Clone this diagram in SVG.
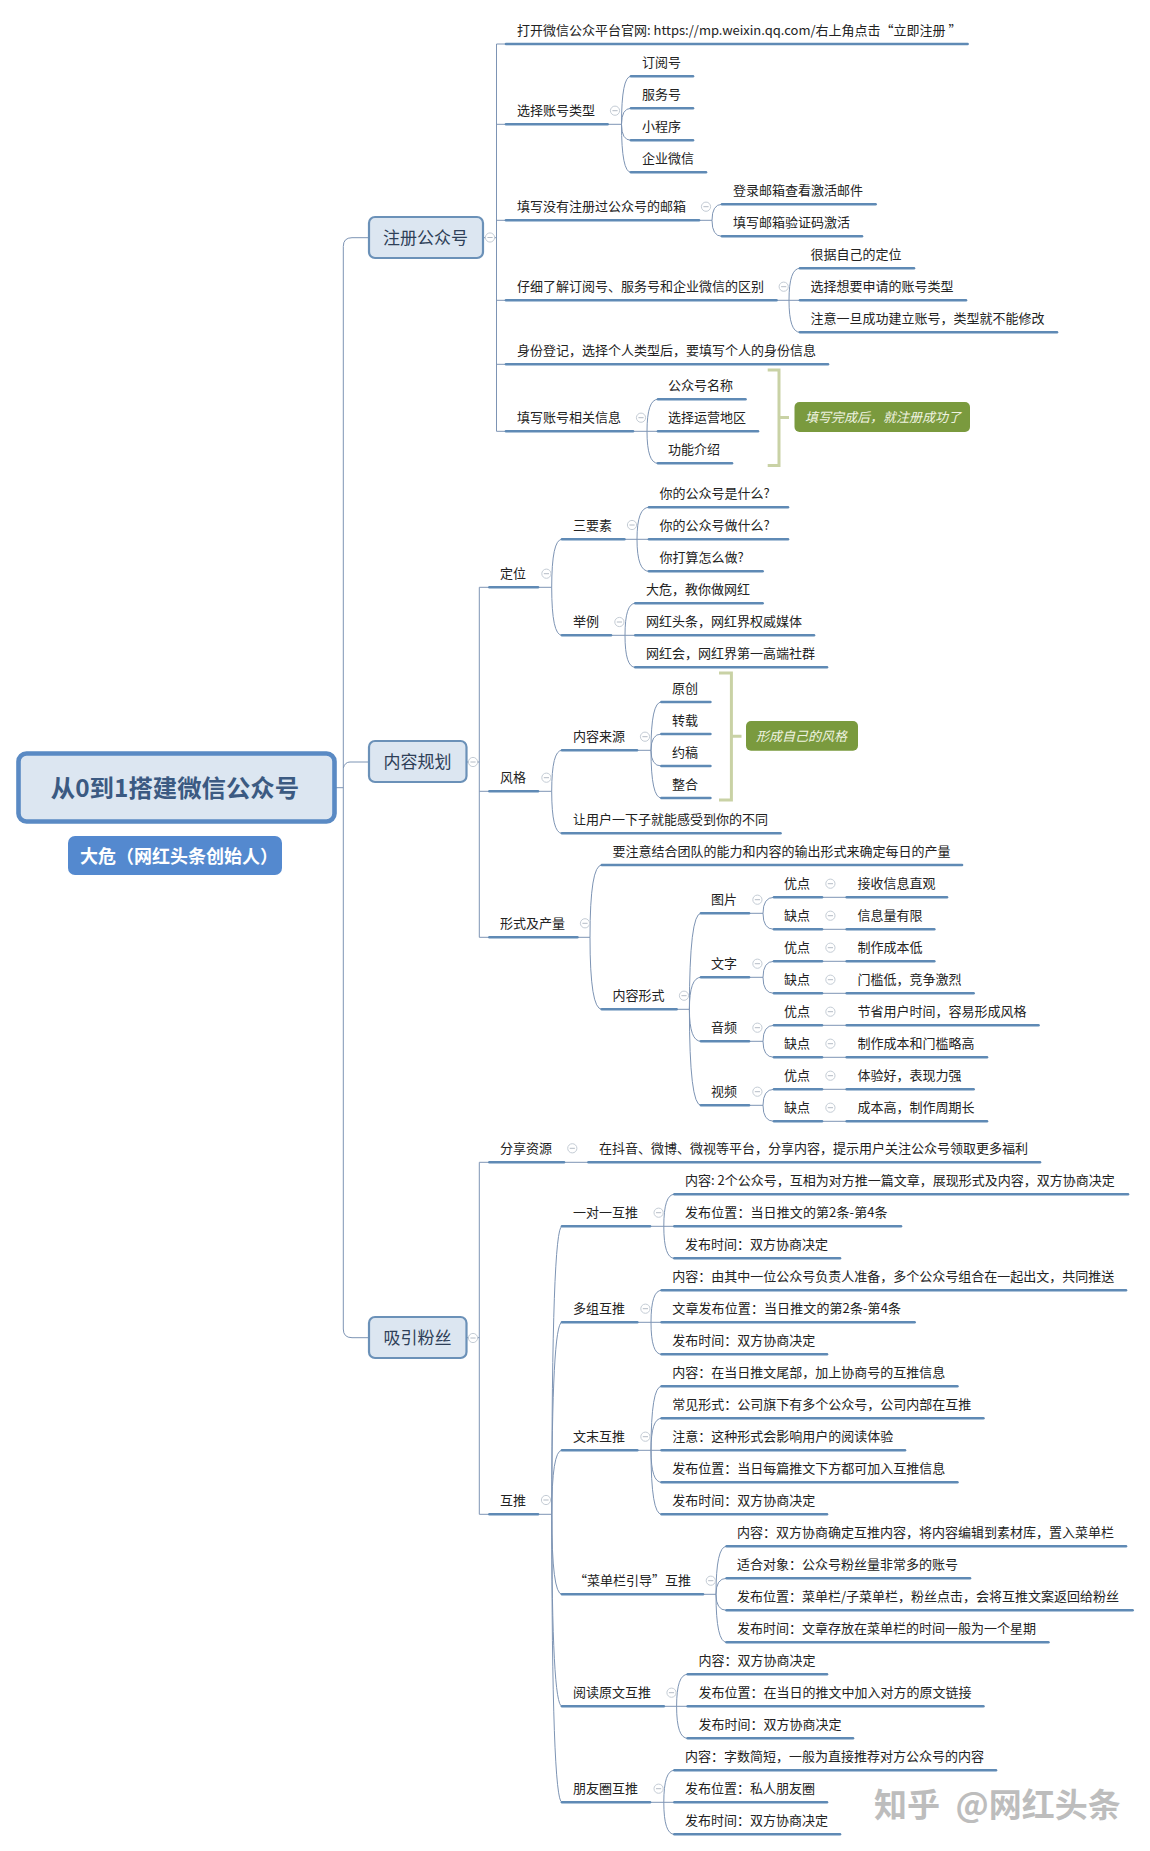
<svg xmlns="http://www.w3.org/2000/svg" width="1150" height="1851" viewBox="0 0 1150 1851">
<style>
text{font-family:"Noto Sans CJK SC","Liberation Sans",sans-serif}
.t{font-size:13px;fill:#222;transform:translateY(-.8px)}
.u{fill:none;stroke:#5f8ab5;stroke-width:2.6;stroke-linecap:round}
.l{fill:none;stroke:#7d94b4;stroke-width:1}
.box{fill:#dce6f1;stroke:#6b91b8;stroke-width:2.2}
.bt{font-size:17px;fill:#2e3f58;text-anchor:middle}
.br{fill:none;stroke:#c9d2a5;stroke-width:3}
.sum{fill:#7a9a3e}
.st{font-size:13px;fill:#eff3e0;font-style:italic}
</style>
<defs>
<g id="c"><circle r="4.6" fill="#fff" stroke="#c4ccd5" stroke-width="1"/><path d="M-2.6 0H2.6" stroke="#b4bcc6" stroke-width="1"/></g>
</defs>
<rect width="1150" height="1851" fill="#fff"/>
<g id="connectors">
<path class="l" d="M335 787.7H343.3M368 237.7H352Q343.3 237.7 343.3 246.5V1329Q343.3 1337.7 352 1337.7H368M343.3 768Q345 762 350 762H368"/>
<path class="l" d="M484 237.7H496.5M496.5 44V431.3M496.5 44H506M496.5 124.3H506M496.5 220.3H506M496.5 300.3H506M496.5 364.3H506M496.5 431.3H506"/>
<path class="l" d="M607.6 124.3H621.5M621.5 124.3Q621.5 76.3 631 76.3M621.5 124.3Q621.5 108.3 631 108.3M621.5 124.3Q621.5 140.3 631 140.3M621.5 124.3Q621.5 172.3 631 172.3"/>
<path class="l" d="M699 220.3H712M712 220.3Q712 204.3 722 204.3M712 220.3Q712 236.3 722 236.3"/>
<path class="l" d="M776.5 300.3H800M789 300.3Q789 268.3 800 268.3M789 300.3Q789 332.3 800 332.3"/>
<path class="l" d="M633 431.3H658M647 431.3Q647 399.3 658 399.3M647 431.3Q647 463.3 658 463.3"/>
<path class="l" d="M467 762H479.3M479.3 587.3V937.3M479.3 587.3H489.4M479.3 791.3H489.4M479.3 937.3H489.4"/>
<path class="l" d="M538 587.3H551.7M551.7 587.3Q551.7 539.3 562 539.3M551.7 587.3Q551.7 635.3 562 635.3"/>
<path class="l" d="M624.4 539.3H649M637 539.3Q637 507.3 649 507.3M637 539.3Q637 571.3 649 571.3"/>
<path class="l" d="M611 635.3H635.3M625 635.3Q625 603.3 635.3 603.3M625 635.3Q625 667.3 635.3 667.3"/>
<path class="l" d="M538 791.3H551.7M551.7 791.3Q551.7 750.3 562 750.3M551.7 791.3Q551.7 833.3 562 833.3"/>
<path class="l" d="M637 750.3H651M651 750.3Q651 702 661.4 702M651 750.3Q651 734 661.4 734M651 750.3Q651 766 661.4 766M651 750.3Q651 798 661.4 798"/>
<path class="l" d="M577.4 937.3H590M590 937.3Q590 865 601.8 865M590 937.3Q590 1009.3 601.8 1009.3"/>
<path class="l" d="M676.6 1009.3H689.4M689.4 1009.3Q689.4 913.3 701 913.3M689.4 1009.3Q689.4 977.3 701 977.3M689.4 1009.3Q689.4 1041.3 701 1041.3M689.4 1009.3Q689.4 1105.3 701 1105.3"/>
<path class="l" d="M749 913.3H763M763 913.3Q763 897.3 774 897.3M763 913.3Q763 929.3 774 929.3M749 977.3H763M763 977.3Q763 961.3 774 961.3M763 977.3Q763 993.3 774 993.3M749 1041.3H763M763 1041.3Q763 1025.3 774 1025.3M763 1041.3Q763 1057.3 774 1057.3M749 1105.3H763M763 1105.3Q763 1089.3 774 1089.3M763 1105.3Q763 1121.3 774 1121.3"/>
<path class="l" d="M822 897.3H846.7M822 929.3H846.7M822 961.3H846.7M822 993.3H846.7M822 1025.3H846.7M822 1057.3H846.7M822 1089.3H846.7M822 1121.3H846.7"/>
<path class="l" d="M467 1337.7H479.3M479.3 1162.3V1514.3M479.3 1162.3H489.4M479.3 1514.3H489.4M564 1162.3H588.5"/>
<path class="l" d="M538 1514.3H551.8M551.8 1514.3Q551.8 1226.3 562 1226.3M551.8 1514.3Q551.8 1322.3 562 1322.3M551.8 1514.3Q551.8 1450.3 562 1450.3M551.8 1514.3Q551.8 1594.3 562 1594.3M551.8 1514.3Q551.8 1706.3 562 1706.3M551.8 1514.3Q551.8 1802.3 562 1802.3"/>
<path class="l" d="M650 1226.3H674.4M663.8 1226.3Q663.8 1194.3 674.4 1194.3M663.8 1226.3Q663.8 1258.3 674.4 1258.3"/>
<path class="l" d="M637.3 1322.3H661.6M651 1322.3Q651 1290.3 661.6 1290.3M651 1322.3Q651 1354.3 661.6 1354.3"/>
<path class="l" d="M637.3 1450.3H661.6M651 1450.3Q651 1386.3 661.6 1386.3M651 1450.3Q651 1418.3 661.6 1418.3M651 1450.3Q651 1482.3 661.6 1482.3M651 1450.3Q651 1514.3 661.6 1514.3"/>
<path class="l" d="M703 1594.3H716M716 1594.3Q716 1546.3 726.6 1546.3M716 1594.3Q716 1578.3 726.6 1578.3M716 1594.3Q716 1610.3 726.6 1610.3M716 1594.3Q716 1642.3 726.6 1642.3"/>
<path class="l" d="M663.8 1706.3H687.7M676.6 1706.3Q676.6 1674.3 687.7 1674.3M676.6 1706.3Q676.6 1738.3 687.7 1738.3"/>
<path class="l" d="M650 1802.3H674.4M663.8 1802.3Q663.8 1770.3 674.4 1770.3M663.8 1802.3Q663.8 1834.3 674.4 1834.3"/>
</g>
<g id="root"><rect x="18.5" y="753.5" width="316" height="68" rx="8" fill="#dce6f1" stroke="#5a8ac4" stroke-width="4.6"/><text x="175" y="796.5" font-size="24.4" font-weight="700" fill="#3b5a82" text-anchor="middle">从0到1搭建微信公众号</text></g>
<g id="author"><rect x="68" y="836" width="214" height="39" rx="7" fill="#5489cf"/><text x="80" y="863" font-size="18" font-weight="700" fill="#fff">大危（网红头条创始人）</text></g>

<g id="t1"><rect class="box" x="369" y="217" width="114" height="41" rx="6"/><text class="bt" x="425.5" y="243.5">注册公众号</text><use href="#c" x="490" y="237.5"/></g>
<g id="t2"><rect class="box" x="369" y="741" width="97.5" height="41" rx="6"/><text class="bt" x="417.5" y="768">内容规划</text><use href="#c" x="473" y="762"/></g>
<g id="t3"><rect class="box" x="369" y="1317" width="97.5" height="41" rx="6"/><text class="bt" x="417.5" y="1343.5">吸引粉丝</text><use href="#c" x="473" y="1338"/></g>

<g id="a1"><text class="t" x="517" y="36">打开微信公众平台官网: https://mp.weixin.qq.com/右上角点击“立即注册 ”</text><path class="u" d="M506 44H967.6"/></g>
<g id="a2"><text class="t" x="517" y="116">选择账号类型</text><path class="u" d="M506 124.3H607.6"/><use href="#c" x="615" y="110.7"/></g>
<g id="a21"><text class="t" x="642" y="68">订阅号</text><path class="u" d="M631 76.3H693"/></g>
<g id="a22"><text class="t" x="642" y="100">服务号</text><path class="u" d="M631 108.3H693"/></g>
<g id="a23"><text class="t" x="642" y="132">小程序</text><path class="u" d="M631 140.3H693"/></g>
<g id="a24"><text class="t" x="642" y="164">企业微信</text><path class="u" d="M631 172.3H706"/></g>
<g id="a3"><text class="t" x="517" y="212">填写没有注册过公众号的邮箱</text><path class="u" d="M506 220.3H699"/><use href="#c" x="706" y="206.7"/></g>
<g id="a31"><text class="t" x="733" y="196">登录邮箱查看激活邮件</text><path class="u" d="M722 204.3H875.6"/></g>
<g id="a32"><text class="t" x="733" y="228">填写邮箱验证码激活</text><path class="u" d="M722 236.3H862"/></g>
<g id="a4"><text class="t" x="517" y="292">仔细了解订阅号、服务号和企业微信的区别</text><path class="u" d="M506 300.3H776.5"/><use href="#c" x="783.7" y="286.7"/></g>
<g id="a41"><text class="t" x="810.5" y="260">很据自己的定位</text><path class="u" d="M800 268.3H914"/></g>
<g id="a42"><text class="t" x="810.5" y="292">选择想要申请的账号类型</text><path class="u" d="M800 300.3H966"/></g>
<g id="a43"><text class="t" x="810.5" y="324">注意一旦成功建立账号，类型就不能修改</text><path class="u" d="M800 332.3H1057"/></g>
<g id="a5"><text class="t" x="517" y="356">身份登记，选择个人类型后，要填写个人的身份信息</text><path class="u" d="M506 364.3H828"/></g>
<g id="a6"><text class="t" x="517" y="423">填写账号相关信息</text><path class="u" d="M506 431.3H633"/><use href="#c" x="641" y="417.7"/></g>
<g id="a61"><text class="t" x="668" y="391">公众号名称</text><path class="u" d="M658 399.3H745.5"/></g>
<g id="a62"><text class="t" x="668" y="423">选择运营地区</text><path class="u" d="M658 431.3H758"/></g>
<g id="a63"><text class="t" x="668" y="455">功能介绍</text><path class="u" d="M658 463.3H732"/></g>
<g id="s1"><path class="br" d="M767.7 370H779V465.5H767.7M779 417.5H789"/><rect class="sum" x="794.5" y="402" width="175.5" height="30" rx="5"/><text class="st" x="805" y="422">填写完成后，就注册成功了</text></g>

<g id="b1"><text class="t" x="500" y="579">定位</text><path class="u" d="M489.4 587.3H538"/><use href="#c" x="546.4" y="573.7"/></g>
<g id="b11"><text class="t" x="573" y="531">三要素</text><path class="u" d="M562 539.3H624.4"/><use href="#c" x="632" y="525"/></g>
<g id="b111"><text class="t" x="659.5" y="499">你的公众号是什么?</text><path class="u" d="M649 507.3H788"/></g>
<g id="b112"><text class="t" x="659.5" y="531">你的公众号做什么?</text><path class="u" d="M649 539.3H788"/></g>
<g id="b113"><text class="t" x="659.5" y="563">你打算怎么做?</text><path class="u" d="M649 571.3H762.6"/></g>
<g id="b12"><text class="t" x="573" y="627">举例</text><path class="u" d="M562 635.3H611"/><use href="#c" x="619.4" y="622"/></g>
<g id="b121"><text class="t" x="646" y="595">大危，教你做网红</text><path class="u" d="M635.3 603.3H762.6"/></g>
<g id="b122"><text class="t" x="646" y="627">网红头条，网红界权威媒体</text><path class="u" d="M635.3 635.3H814"/></g>
<g id="b123"><text class="t" x="646" y="659">网红会，网红界第一高端社群</text><path class="u" d="M635.3 667.3H827"/></g>
<g id="b2"><text class="t" x="500" y="783">风格</text><path class="u" d="M489.4 791.3H538"/><use href="#c" x="546.4" y="777.7"/></g>
<g id="b21"><text class="t" x="573" y="742">内容来源</text><path class="u" d="M562 750.3H637"/><use href="#c" x="645" y="736.7"/></g>
<g id="b211"><text class="t" x="672" y="694">原创</text><path class="u" d="M661.4 702H710.4"/></g>
<g id="b212"><text class="t" x="672" y="726">转载</text><path class="u" d="M661.4 734H710.4"/></g>
<g id="b213"><text class="t" x="672" y="758">约稿</text><path class="u" d="M661.4 766H710.4"/></g>
<g id="b214"><text class="t" x="672" y="790">整合</text><path class="u" d="M661.4 798H710.4"/></g>
<g id="s2"><path class="br" d="M719 673H731.4V800H719M731.4 736.3H741.5"/><rect class="sum" x="746" y="721" width="112" height="29.7" rx="5"/><text class="st" x="756" y="741">形成自己的风格</text></g>
<g id="b22"><text class="t" x="573" y="825">让用户一下子就能感受到你的不同</text><path class="u" d="M562 833.3H780.5"/></g>
<g id="b3"><text class="t" x="500" y="929">形式及产量</text><path class="u" d="M489.4 937.3H577.4"/><use href="#c" x="585" y="923.3"/></g>
<g id="b31"><text class="t" x="612.5" y="857">要注意结合团队的能力和内容的输出形式来确定每日的产量</text><path class="u" d="M601.8 865H962"/></g>
<g id="b32"><text class="t" x="612.5" y="1001">内容形式</text><path class="u" d="M601.8 1009.3H676.6"/><use href="#c" x="684" y="995.7"/></g>
<g id="p1"><text class="t" x="711" y="905">图片</text><path class="u" d="M701 913.3H749"/><use href="#c" x="757.4" y="899.7"/></g>
<g id="p11"><text class="t" x="784" y="889">优点</text><path class="u" d="M774 897.3H822"/><use href="#c" x="830.4" y="883.7"/></g>
<g id="p111"><text class="t" x="857.4" y="889">接收信息直观</text><path class="u" d="M846.7 897.3H947"/></g>
<g id="p12"><text class="t" x="784" y="921">缺点</text><path class="u" d="M774 929.3H822"/><use href="#c" x="830.4" y="915.7"/></g>
<g id="p121"><text class="t" x="857.4" y="921">信息量有限</text><path class="u" d="M846.7 929.3H934.3"/></g>
<g id="p2"><text class="t" x="711" y="969">文字</text><path class="u" d="M701 977.3H749"/><use href="#c" x="757.4" y="963.7"/></g>
<g id="p21"><text class="t" x="784" y="953">优点</text><path class="u" d="M774 961.3H822"/><use href="#c" x="830.4" y="947.7"/></g>
<g id="p211"><text class="t" x="857.4" y="953">制作成本低</text><path class="u" d="M846.7 961.3H934.3"/></g>
<g id="p22"><text class="t" x="784" y="985">缺点</text><path class="u" d="M774 993.3H822"/><use href="#c" x="830.4" y="979.7"/></g>
<g id="p221"><text class="t" x="857.4" y="985">门槛低，竞争激烈</text><path class="u" d="M846.7 993.3H973.6"/></g>
<g id="p3"><text class="t" x="711" y="1033">音频</text><path class="u" d="M701 1041.3H749"/><use href="#c" x="757.4" y="1027.7"/></g>
<g id="p31"><text class="t" x="784" y="1017">优点</text><path class="u" d="M774 1025.3H822"/><use href="#c" x="830.4" y="1011.7"/></g>
<g id="p311"><text class="t" x="857.4" y="1017">节省用户时间，容易形成风格</text><path class="u" d="M846.7 1025.3H1038.5"/></g>
<g id="p32"><text class="t" x="784" y="1049">缺点</text><path class="u" d="M774 1057.3H822"/><use href="#c" x="830.4" y="1043.7"/></g>
<g id="p321"><text class="t" x="857.4" y="1049">制作成本和门槛略高</text><path class="u" d="M846.7 1057.3H987"/></g>
<g id="p4"><text class="t" x="711" y="1097">视频</text><path class="u" d="M701 1105.3H749"/><use href="#c" x="757.4" y="1091.7"/></g>
<g id="p41"><text class="t" x="784" y="1081">优点</text><path class="u" d="M774 1089.3H822"/><use href="#c" x="830.4" y="1075.7"/></g>
<g id="p411"><text class="t" x="857.4" y="1081">体验好，表现力强</text><path class="u" d="M846.7 1089.3H973.6"/></g>
<g id="p42"><text class="t" x="784" y="1113">缺点</text><path class="u" d="M774 1121.3H822"/><use href="#c" x="830.4" y="1107.7"/></g>
<g id="p421"><text class="t" x="857.4" y="1113">成本高，制作周期长</text><path class="u" d="M846.7 1121.3H987"/></g>

<g id="c1"><text class="t" x="500" y="1154">分享资源</text><path class="u" d="M489.4 1162.3H564"/><use href="#c" x="572.3" y="1148.3"/></g>
<g id="c11"><text class="t" x="599" y="1154">在抖音、微博、微视等平台，分享内容，提示用户关注公众号领取更多福利</text><path class="u" d="M588.5 1162.3H1040"/></g>
<g id="c2"><text class="t" x="500" y="1506">互推</text><path class="u" d="M489.4 1514.3H538"/><use href="#c" x="546" y="1500"/></g>
<g id="d1"><text class="t" x="573" y="1218">一对一互推</text><path class="u" d="M562 1226.3H650"/><use href="#c" x="658.6" y="1212.7"/></g>
<g id="d11"><text class="t" x="685" y="1186">内容: 2个公众号，互相为对方推一篇文章，展现形式及内容，双方协商决定</text><path class="u" d="M674.4 1194.3H1128"/></g>
<g id="d12"><text class="t" x="685" y="1218" letter-spacing=".1">发布位置：当日推文的第2条-第4条</text><path class="u" d="M674.4 1226.3H901"/></g>
<g id="d13"><text class="t" x="685" y="1250">发布时间：双方协商决定</text><path class="u" d="M674.4 1258.3H840"/></g>
<g id="d2"><text class="t" x="573" y="1314">多组互推</text><path class="u" d="M562 1322.3H637.3"/><use href="#c" x="645.4" y="1308.7"/></g>
<g id="d21"><text class="t" x="672.3" y="1282">内容：由其中一位公众号负责人准备，多个公众号组合在一起出文，共同推送</text><path class="u" d="M661.6 1290.3H1126"/></g>
<g id="d22"><text class="t" x="672.3" y="1314" letter-spacing=".1">文章发布位置：当日推文的第2条-第4条</text><path class="u" d="M661.6 1322.3H914.6"/></g>
<g id="d23"><text class="t" x="672.3" y="1346">发布时间：双方协商决定</text><path class="u" d="M661.6 1354.3H827"/></g>
<g id="d3"><text class="t" x="573" y="1442">文末互推</text><path class="u" d="M562 1450.3H637.3"/><use href="#c" x="645.4" y="1436.7"/></g>
<g id="d31"><text class="t" x="672.3" y="1378">内容：在当日推文尾部，加上协商号的互推信息</text><path class="u" d="M661.6 1386.3H957.4"/></g>
<g id="d32"><text class="t" x="672.3" y="1410">常见形式：公司旗下有多个公众号，公司内部在互推</text><path class="u" d="M661.6 1418.3H983.4"/></g>
<g id="d33"><text class="t" x="672.3" y="1442">注意：这种形式会影响用户的阅读体验</text><path class="u" d="M661.6 1450.3H905"/></g>
<g id="d34"><text class="t" x="672.3" y="1474">发布位置：当日每篇推文下方都可加入互推信息</text><path class="u" d="M661.6 1482.3H957.4"/></g>
<g id="d35"><text class="t" x="672.3" y="1506">发布时间：双方协商决定</text><path class="u" d="M661.6 1514.3H827"/></g>
<g id="d4"><text class="t" x="574" y="1586">“菜单栏引导”互推</text><path class="u" d="M562 1594.3H703"/><use href="#c" x="710.8" y="1580.7"/></g>
<g id="d41"><text class="t" x="737" y="1538">内容：双方协商确定互推内容，将内容编辑到素材库，置入菜单栏</text><path class="u" d="M726.6 1546.3H1126"/></g>
<g id="d42"><text class="t" x="737" y="1570">适合对象：公众号粉丝量非常多的账号</text><path class="u" d="M726.6 1578.3H970"/></g>
<g id="d43"><text class="t" x="737" y="1602">发布位置：菜单栏/子菜单栏，粉丝点击，会将互推文案返回给粉丝</text><path class="u" d="M726.6 1610.3H1132.6"/></g>
<g id="d44"><text class="t" x="737" y="1634">发布时间：文章存放在菜单栏的时间一般为一个星期</text><path class="u" d="M726.6 1642.3H1048.4"/></g>
<g id="d5"><text class="t" x="573" y="1698">阅读原文互推</text><path class="u" d="M562 1706.3H663.8"/><use href="#c" x="671.5" y="1692.7"/></g>
<g id="d51"><text class="t" x="698.4" y="1666">内容：双方协商决定</text><path class="u" d="M687.7 1674.3H827"/></g>
<g id="d52"><text class="t" x="698.4" y="1698">发布位置：在当日的推文中加入对方的原文链接</text><path class="u" d="M687.7 1706.3H983.4"/></g>
<g id="d53"><text class="t" x="698.4" y="1730">发布时间：双方协商决定</text><path class="u" d="M687.7 1738.3H853"/></g>
<g id="d6"><text class="t" x="573" y="1794">朋友圈互推</text><path class="u" d="M562 1802.3H650"/><use href="#c" x="658.6" y="1788.7"/></g>
<g id="d61"><text class="t" x="685" y="1762">内容：字数简短，一般为直接推荐对方公众号的内容</text><path class="u" d="M674.4 1770.3H996"/></g>
<g id="d62"><text class="t" x="685" y="1794">发布位置：私人朋友圈</text><path class="u" d="M674.4 1802.3H827"/></g>
<g id="d63"><text class="t" x="685" y="1826">发布时间：双方协商决定</text><path class="u" d="M674.4 1834.3H840"/></g>
<text id="watermark" x="874" y="1817" font-size="33" font-weight="700" fill="#bdbdbd" word-spacing="8">知乎 @网红头条</text>
</svg>
